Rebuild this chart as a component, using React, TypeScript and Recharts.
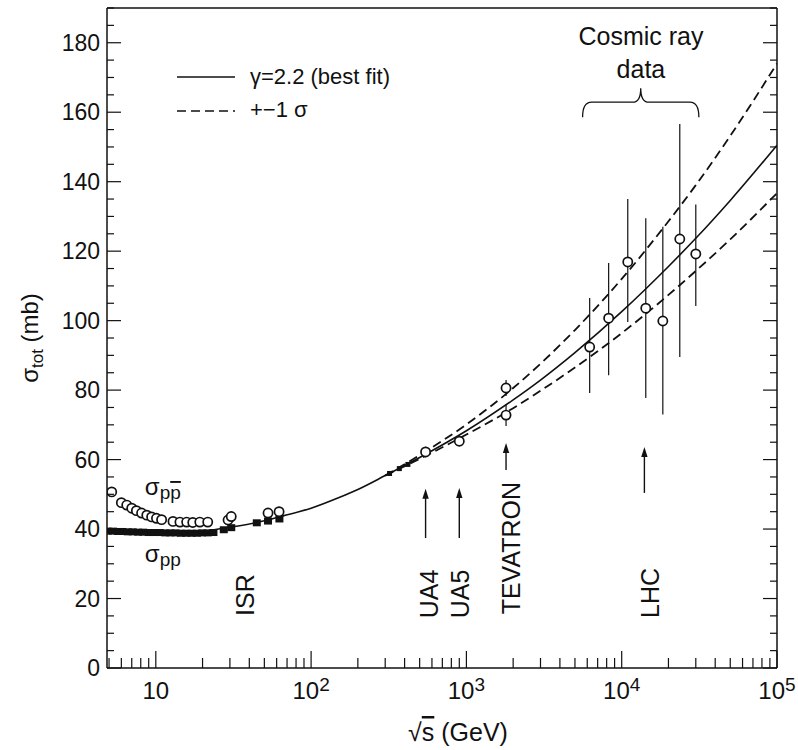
import React from "react";
import {
  ComposedChart,
  ErrorBar,
  Legend,
  Line,
  ReferenceDot,
  ReferenceLine,
  Scatter,
  XAxis,
  YAxis,
} from "recharts";

const FONT = "'Liberation Sans', Arial, Helvetica, sans-serif";
const INK = "#111";

// sigma(p pbar), open circles: fixed target + ISR
const ppbarSqrtS = [5.2, 6.0, 6.5, 7.0, 7.5, 8.1, 8.75, 9.4, 10.1, 10.9, 12.9, 14.3, 15.8, 17.3, 19.2, 21.6, 29.2, 30.6, 52.8, 62.2];
const ppbarSigma = [50.7, 47.6, 46.9, 46.0, 45.3, 44.6, 44.0, 43.5, 43.1, 42.7, 42.2, 42.0, 42.0, 41.9, 42.0, 42.0, 42.6, 43.6, 44.6, 45.0];

// sigma(pp), filled squares
const ppSqrtS = [4.9, 5.3, 5.7, 6.1, 6.6, 7.1, 7.7, 8.3, 9.0, 9.8, 10.6, 11.5, 12.4, 13.4, 14.5, 15.7, 17.0, 18.4, 19.9, 21.6, 23.5, 27.4, 30.6, 44.7, 52.8, 62.5];
const ppSigma = [39.4, 39.4, 39.3, 39.3, 39.2, 39.2, 39.1, 39.1, 39.0, 39.0, 39.0, 38.9, 38.9, 38.9, 38.8, 38.8, 38.8, 38.8, 38.9, 38.9, 39.0, 39.8, 40.4, 41.8, 42.3, 42.9];

// small filled points on the curve below the SppS
const midSqrtS = [320, 370, 420];
const midSigma = [56.0, 57.4, 58.6];

// collider p pbar: UA4, UA5, CDF, E710
const colliderSqrtS = [546, 900, 1800, 1800];
const colliderSigma = [62.2, 65.3, 80.6, 72.8];
const colliderErr = [1.5, 1.5, 2.3, 3.1];

// cosmic ray points
const cosmicSqrtS = [6220, 8240, 10940, 14290, 18400, 23660, 30000];
const cosmicSigma = [92.4, 100.7, 116.9, 103.6, 99.9, 123.5, 119.2];
const cosmicErrLow = [13.2, 16.4, 17.3, 25.9, 26.9, 34.0, 15.0];
const cosmicErrHigh = [14.1, 15.9, 18.1, 25.9, 27.1, 33.1, 14.2];

// fit, gamma = 2.2
const fitSqrtS = [20, 30, 45, 66, 100, 150, 200, 300, 500, 1000, 2000, 3000, 5000, 10000, 20000, 30000, 50000, 100000];
const fitSigma = [39.3, 40.5, 41.9, 43.8, 46.0, 49.0, 51.4, 55.4, 60.6, 68.3, 77.2, 82.9, 90.8, 102.6, 115.6, 123.7, 134.6, 150.5];
// +-1 sigma band
const bandSqrtS = [300, 500, 1000, 2000, 3000, 5000, 10000, 20000, 30000, 50000, 100000];
const bandUpper = [55.4, 61.3, 70.1, 80.6, 87.6, 97.3, 112.0, 128.6, 139.0, 153.2, 174.0];
const bandLower = [55.4, 60.2, 67.2, 74.8, 79.8, 86.5, 96.4, 107.4, 114.3, 123.4, 136.7];

// axis ticks
const xTicks = [5, 6, 7, 8, 9, 10, 20, 30, 40, 50, 60, 70, 80, 90, 100, 200, 300, 400, 500, 600, 700, 800, 900, 1000,
  2000, 3000, 4000, 5000, 6000, 7000, 8000, 9000, 10000, 20000, 30000, 40000, 50000, 60000, 70000, 80000, 90000, 100000];
const yTicks = [0, 5, 10, 15, 20, 25, 30, 35, 40, 45, 50, 55, 60, 65, 70, 75, 80, 85, 90, 95, 100, 105, 110, 115, 120,
  125, 130, 135, 140, 145, 150, 155, 160, 165, 170, 175, 180, 185, 190];

// machine annotations
const machineNames = ["ISR", "UA4", "UA5", "TEVATRON", "LHC"];
const machineLabelX = [37.5, 577, 914, 1923, 15170];
const machineLabelY = [21.0, 21.3, 21.3, 34.5, 21.6];
const arrowX = [546, 900, 1800, 14000];
const arrowFrom = [37.4, 37.4, 57.0, 50.4];
const arrowTo = [51.6, 51.8, 64.8, 63.6];

const zip = (xs: number[], ys: number[]) => xs.map((e, i) => ({ e, s: ys[i] }));

const ppbarData = zip(ppbarSqrtS, ppbarSigma);
const ppData = zip(ppSqrtS, ppSigma);
const midData = zip(midSqrtS, midSigma);
const colliderData = colliderSqrtS.map((e, i) => ({ e, s: colliderSigma[i], err: [colliderErr[i], colliderErr[i]] }));
const cosmicData = cosmicSqrtS.map((e, i) => ({ e, s: cosmicSigma[i], err: [cosmicErrLow[i], cosmicErrHigh[i]] }));
const fitData = zip(fitSqrtS, fitSigma);
const upperData = zip(bandSqrtS, bandUpper);
const lowerData = zip(bandSqrtS, bandLower);

const textStyle = { fontFamily: FONT, fill: INK };

function LeftTick({ x, y, payload }: any) {
  const v = payload.value;
  const major = v % 20 === 0;
  return (
    <g>
      <line x1={x} x2={x + (major ? 14 : 7)} y1={y} y2={y} stroke={INK} strokeWidth={1.2} />
      {major && (
        <text x={x - 7} y={y} dy="0.36em" textAnchor="end" fontSize={23} {...textStyle}>
          {v}
        </text>
      )}
    </g>
  );
}

function RightTick({ x, y, payload }: any) {
  const major = payload.value % 20 === 0;
  return <line x1={x} x2={x - (major ? 14 : 7)} y1={y} y2={y} stroke={INK} strokeWidth={1.2} />;
}

function BottomTick({ x, y, payload }: any) {
  const lg = Math.log10(payload.value);
  const exp = Math.round(lg);
  const major = Math.abs(lg - exp) < 1e-6;
  return (
    <g>
      <line x1={x} x2={x} y1={y} y2={y - (major ? 17 : 10)} stroke={INK} strokeWidth={1.2} />
      {major && (
        <text x={x} y={y + 31} textAnchor="middle" fontSize={24} {...textStyle}>
          10
          {exp > 1 && (
            <tspan dy={-8} fontSize={19}>
              {exp}
            </tspan>
          )}
        </text>
      )}
    </g>
  );
}

function XTitle({ viewBox }: any) {
  const vb = viewBox ?? { x: 107, y: 668, width: 670 };
  return (
    <text x={vb.x + vb.width / 2 + 16} y={vb.y + 73} textAnchor="middle" fontSize={25} {...textStyle}>
      √<tspan style={{ textDecoration: "overline" }}>s</tspan> (GeV)
    </text>
  );
}

function YTitle({ viewBox }: any) {
  const vb = viewBox ?? { x: 0, y: 8, height: 660 };
  const cy = vb.y + vb.height / 2;
  return (
    <text transform={`translate(${vb.x + 38},${cy}) rotate(-90)`} textAnchor="middle" fontSize={24} {...textStyle}>
      σ<tspan dy={5} fontSize={17}>tot</tspan>
      <tspan dy={-5}> (mb)</tspan>
    </text>
  );
}

function FitLegend() {
  return (
    <svg width={240} height={70} style={{ display: "block", overflow: "visible" }}>
      <line x1={7} x2={65} y1={22} y2={22} stroke={INK} strokeWidth={1.5} />
      <text x={80} y={29} fontSize={22} {...textStyle}>
        γ=2.2 (best fit)
      </text>
      <line x1={7} x2={65} y1={56} y2={56} stroke={INK} strokeWidth={1.5} strokeDasharray="9 5" />
      <text x={80} y={62} fontSize={22} {...textStyle}>
        +−1 σ
      </text>
    </svg>
  );
}

const openCircle = (p: any) => <circle cx={p.cx} cy={p.cy} r={4.6} fill="#fff" stroke={INK} strokeWidth={1.7} />;
const filledSquare = (p: any) => <rect x={p.cx - 4} y={p.cy - 3.5} width={8} height={7} fill={INK} />;
const smallSquare = (p: any) => <rect x={p.cx - 2.5} y={p.cy - 2.5} width={5} height={5} fill={INK} />;

function Arrow({ x1, y1, x2, y2 }: any) {
  return (
    <g>
      <line x1={x1} y1={y1} x2={x2} y2={y2 + 6} stroke={INK} strokeWidth={1.4} />
      <path d={`M${x2},${y2} L${x2 - 3.2},${y2 + 10} L${x2 + 3.2},${y2 + 10} Z`} fill={INK} />
    </g>
  );
}

function Brace({ x1, y1, x2 }: any) {
  const xm = (x1 + x2) / 2;
  const y = y1;
  const d = `M${x1},${y + 15} Q${x1},${y} ${x1 + 9},${y} L${xm - 8},${y} Q${xm},${y} ${xm},${y - 14}
    Q${xm},${y} ${xm + 8},${y} L${x2 - 9},${y} Q${x2},${y} ${x2},${y + 15}`;
  return <path d={d} fill="none" stroke={INK} strokeWidth={1.3} />;
}

function SigmaLabel({ cx, cy, bar }: any) {
  return (
    <text x={cx} y={cy} fontSize={24} {...textStyle}>
      σ
      <tspan dy={4} fontSize={19}>
        p
      </tspan>
      <tspan fontSize={19} style={bar ? { textDecoration: "overline" } : undefined}>
        p
      </tspan>
    </text>
  );
}

export default function App() {
  return (
    <div style={{ position: "absolute", left: 0, top: 0, background: "#fff" }}>
      <ComposedChart width={798} height={750} margin={{ top: 8, right: 0, bottom: 0, left: 0 }}>
        <XAxis
          dataKey="e"
          type="number"
          scale="log"
          domain={[4.85, 100000]}
          allowDataOverflow
          ticks={xTicks}
          interval={0}
          tick={<BottomTick />}
          tickLine={false}
          tickSize={0}
          tickMargin={0}
          height={82}
          axisLine={{ stroke: INK, strokeWidth: 1.5 }}
          label={{ content: (p: any) => <XTitle viewBox={p.viewBox} /> }}
        />
        <YAxis
          yAxisId="left"
          type="number"
          domain={[0, 190]}
          allowDataOverflow
          ticks={yTicks}
          interval={0}
          tick={<LeftTick />}
          tickLine={false}
          tickSize={0}
          tickMargin={0}
          width={107}
          axisLine={{ stroke: INK, strokeWidth: 1.5 }}
          label={{ content: (p: any) => <YTitle viewBox={p.viewBox} /> }}
        />
        <YAxis
          yAxisId="right"
          orientation="right"
          type="number"
          domain={[0, 190]}
          allowDataOverflow
          ticks={yTicks}
          interval={0}
          tick={<RightTick />}
          tickLine={false}
          tickSize={0}
          tickMargin={0}
          width={21}
          axisLine={{ stroke: INK, strokeWidth: 1.5 }}
        />
        <ReferenceLine yAxisId="left" y={190} stroke={INK} strokeWidth={1.5} />

        <Line yAxisId="left" data={fitData} dataKey="s" type="monotone" stroke={INK} strokeWidth={1.6} dot={false} isAnimationActive={false} />
        <Line yAxisId="left" data={upperData} dataKey="s" type="monotone" stroke={INK} strokeWidth={1.8} strokeDasharray="9 5" dot={false} isAnimationActive={false} />
        <Line yAxisId="left" data={lowerData} dataKey="s" type="monotone" stroke={INK} strokeWidth={1.8} strokeDasharray="9 5" dot={false} isAnimationActive={false} />

        <Scatter yAxisId="left" data={ppData} dataKey="s" shape={filledSquare} isAnimationActive={false} />
        <Scatter yAxisId="left" data={midData} dataKey="s" shape={smallSquare} isAnimationActive={false} />
        <Scatter yAxisId="left" data={ppbarData} dataKey="s" shape={openCircle} isAnimationActive={false} />
        <Scatter yAxisId="left" data={colliderData} dataKey="s" shape={openCircle} isAnimationActive={false}>
          <ErrorBar dataKey="err" direction="y" width={0} stroke={INK} strokeWidth={1.2} isAnimationActive={false} />
        </Scatter>
        <Scatter yAxisId="left" data={cosmicData} dataKey="s" shape={openCircle} isAnimationActive={false}>
          <ErrorBar dataKey="err" direction="y" width={0} stroke={INK} strokeWidth={1.2} isAnimationActive={false} />
        </Scatter>

        {arrowX.map((x, i) => (
          <ReferenceLine
            key={`arrow-${x}`}
            yAxisId="left"
            segment={[{ x, y: arrowFrom[i] }, { x, y: arrowTo[i] }]}
            ifOverflow="visible"
            shape={(p: any) => <Arrow {...p} />}
          />
        ))}
        {machineNames.map((name, i) => (
          <ReferenceDot
            key={name}
            yAxisId="left"
            x={machineLabelX[i]}
            y={machineLabelY[i]}
            r={0}
            ifOverflow="visible"
            shape={(p: any) => (
              <text transform={`translate(${p.cx},${p.cy}) rotate(-90)`} dy="0.36em" textAnchor="middle" fontSize={25} {...textStyle}>
                {name}
              </text>
            )}
          />
        ))}

        <ReferenceLine
          yAxisId="left"
          segment={[{ x: 5600, y: 162.9 }, { x: 31400, y: 162.9 }]}
          ifOverflow="visible"
          shape={(p: any) => <Brace {...p} />}
        />
        <ReferenceDot
          yAxisId="left"
          x={13300}
          y={179.3}
          r={0}
          ifOverflow="visible"
          shape={(p: any) => (
            <text x={p.cx} y={p.cy} textAnchor="middle" fontSize={25} {...textStyle}>
              Cosmic ray
            </text>
          )}
        />
        <ReferenceDot
          yAxisId="left"
          x={13300}
          y={169.8}
          r={0}
          ifOverflow="visible"
          shape={(p: any) => (
            <text x={p.cx} y={p.cy} textAnchor="middle" fontSize={25} {...textStyle}>
              data
            </text>
          )}
        />
        <ReferenceDot yAxisId="left" x={8.5} y={49.8} r={0} ifOverflow="visible" shape={(p: any) => <SigmaLabel {...p} bar />} />
        <ReferenceDot yAxisId="left" x={8.5} y={30.5} r={0} ifOverflow="visible" shape={(p: any) => <SigmaLabel {...p} />} />

        <Legend
          content={<FitLegend />}
          layout="horizontal"
          verticalAlign="middle"
          align="center"
          wrapperStyle={{ left: 170, top: 55, width: 240, height: 70 }}
        />
      </ComposedChart>
    </div>
  );
}
